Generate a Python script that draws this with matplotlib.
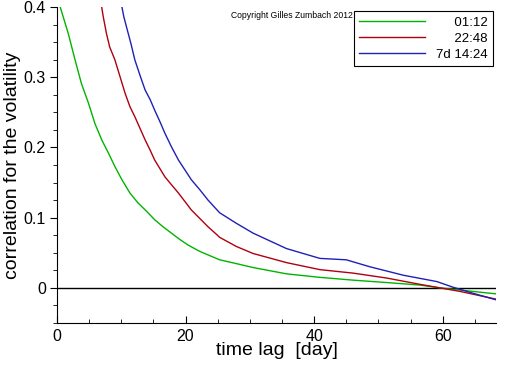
import numpy as np
import matplotlib
matplotlib.use('Agg')
import matplotlib.pyplot as plt
from matplotlib.ticker import MultipleLocator

plt.rcParams['font.family'] = ['Liberation Sans', 'DejaVu Sans']

# data: lag [day] -> correlation
green_x = [0.5, 1.76, 2.8, 3.8, 4.9, 5.9, 6.95, 8.0, 9.0, 10.1, 11.35, 12.6, 13.95, 15.2,
           16.5, 17.8, 19.1, 20.4, 22.2, 25.3, 27.7, 30.5, 35.7, 40.9, 46.1, 51.3, 56.5,
           59.6, 64.7, 68.3]
green_y = [0.400, 0.362, 0.325, 0.291, 0.263, 0.234, 0.211, 0.192, 0.173, 0.154, 0.135,
           0.121, 0.109, 0.097, 0.087, 0.078, 0.069, 0.061, 0.052, 0.040, 0.035, 0.029, 0.020,
           0.015, 0.011, 0.0076, 0.004, 0.000, -0.005, -0.0085]

red_x = [6.95, 7.2, 7.7, 8.2, 9.0, 9.8, 10.6, 11.35, 12.1, 13.7, 14.5, 15.2, 16.8, 17.8, 18.9,
         19.9, 20.9, 22.2, 23.5, 24.6, 25.3, 27.9, 30.5, 35.7, 40.9, 46.1, 51.3, 56.5, 59.6,
         62.7, 68.3]
red_y = [0.400, 0.386, 0.362, 0.343, 0.325, 0.301, 0.277, 0.258, 0.244, 0.211, 0.196, 0.182,
         0.158, 0.147, 0.135, 0.123, 0.111, 0.099, 0.087, 0.078, 0.072, 0.059, 0.049, 0.036,
         0.026, 0.021, 0.014, 0.005, 0.000, -0.005, -0.016]

blue_x = [10.1, 10.4, 10.8, 11.5, 12.1, 12.9, 13.7, 14.5, 15.2, 16.0, 16.8, 17.8, 18.9, 19.9,
          20.9, 22.2, 23.5, 25.3, 27.9, 30.5, 35.7, 40.9, 45.0, 48.7, 53.9, 59.1, 61.6, 64.7,
          68.3]
blue_y = [0.400, 0.386, 0.372, 0.348, 0.325, 0.303, 0.282, 0.268, 0.253, 0.237, 0.220, 0.201,
          0.182, 0.168, 0.154, 0.140, 0.125, 0.107, 0.092, 0.078, 0.056, 0.042, 0.040, 0.030,
          0.018, 0.009, 0.001, -0.0076, -0.017]

labels = ['\u2007\u2007 01:12', '\u2007\u2007 22:48', '7d 14:24']

fig = plt.figure(figsize=(5.12, 3.66), dpi=100)
ax = fig.add_axes([57/512, 43/366, 439/512, 316/366])

ax.axhline(0, color='black', lw=1)
ax.plot(green_x, green_y, color='#00b400', lw=1, label=labels[0])
ax.plot(red_x, red_y, color='#b00010', lw=1, label=labels[1])
ax.plot(blue_x, blue_y, color='#2020b8', lw=1, label=labels[2])

ax.set_xlim(0, 68.3)
ax.set_ylim(-0.05, 0.4)
ax.spines['top'].set_visible(False)
ax.spines['right'].set_visible(False)

ax.xaxis.set_major_locator(MultipleLocator(20))
ax.xaxis.set_minor_locator(MultipleLocator(5))
ax.yaxis.set_major_locator(MultipleLocator(0.1))
ax.yaxis.set_minor_locator(MultipleLocator(0.025))
ax.set_yticks([0, 0.1, 0.2, 0.3, 0.4])
ax.set_yticklabels(['0', '0.1', '0.2', '0.3', '0.4'])
ax.tick_params(axis='x', which='major', direction='in', length=5, pad=4, labelsize=11.5)
ax.tick_params(axis='x', which='minor', direction='in', length=3)
ax.tick_params(axis='y', which='major', direction='out', length=5, pad=3, labelsize=11.5)
ax.tick_params(axis='y', which='minor', direction='out', length=3)

ax.set_xlabel('time lag  [day]', fontsize=14, labelpad=-1)
ax.set_ylabel('correlation for the volatility', fontsize=14, labelpad=2)

leg = ax.legend(loc='upper right', bbox_to_anchor=(0.993, 0.987), borderaxespad=0,
                fontsize=9.5, handlelength=5.0, handletextpad=0.8, labelspacing=0.3,
                fancybox=False, framealpha=1, edgecolor='black')
leg.get_frame().set_linewidth(0.8)

fig.text(353/512, 1 - 16/366, 'Copyright Gilles Zumbach 2012', fontsize=6.2,
         ha='right', va='center')

fig.savefig('out.png', dpi=100)
